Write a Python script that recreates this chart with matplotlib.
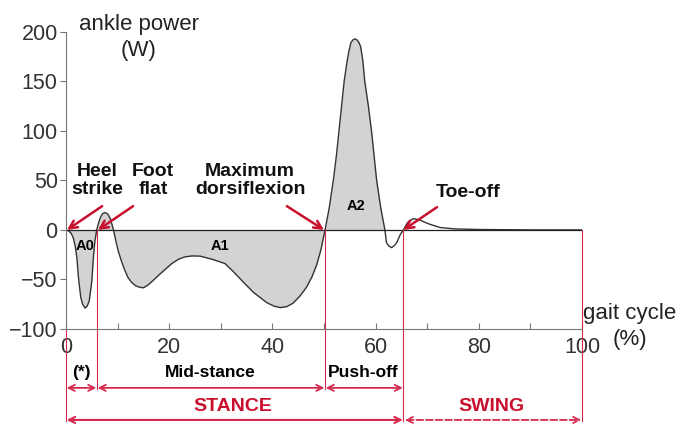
import numpy as np
import matplotlib.pyplot as plt

plt.rcParams['font.family'] = ['Liberation Sans', 'DejaVu Sans']

# ankle power over the gait cycle
gait = [0, 0.5, 1.0, 1.4, 1.8, 2.1, 2.4, 2.85, 3.2, 3.7, 4.1, 4.5, 5.0, 5.3, 5.6, 5.95,
        6.3, 6.7, 7.1, 7.6, 8.1, 8.6, 9.2,
        9.6, 10.1, 10.7, 11.4, 12.0, 12.7, 13.5, 14.3, 15.0, 15.8, 16.9, 18.0, 19.2,
        20.5, 21.8, 23.0, 24.4, 26.0, 28.5, 30.8, 32.4, 34.4, 36.3, 38.9, 40.3, 41.5,
        42.8, 44.0, 45.3, 46.6, 47.7, 48.6, 49.4, 50.2,
        51.0, 51.8, 52.4, 52.9, 53.4, 53.9, 54.4, 54.8, 55.2, 55.6, 56.0, 56.4, 56.8,
        57.1, 57.5, 57.9, 58.6, 59.2, 59.7, 60.2, 61.0, 61.8,
        62.1, 62.6, 63.1, 63.6, 64.1, 64.8, 65.4, 65.9, 66.3, 67.3, 68.6, 69.5, 70.5,
        72.5, 75.3, 80, 85, 90, 100]
power = [0, -1, -3.5, -8, -17, -28, -48, -68, -75, -79, -77, -71.7, -51.5, -28, -11, 0,
         7, 13, 16.5, 17.5, 16, 11, 0,
         -10, -21, -31, -41, -48, -53, -56.5, -58, -58.5, -56, -51, -45.5, -40,
         -34, -29.6, -27.3, -26.3, -26.5, -30, -34, -42, -53, -63, -73.5, -77, -78.5,
         -77.5, -74, -67, -58, -47, -35, -20, 0,
         22, 50, 75, 100, 125, 150, 168, 180, 189, 192, 193, 192, 189,
         185, 172, 150, 125, 100, 75, 50, 22, 0,
         -12.8, -16.5, -17.9, -16, -12.8, -4.4, 0, 5, 8, 11.4, 10, 7.8, 5.7,
         2.4, 1, 0.4, 0.2, 0, 0]

# phase boundaries (% gait cycle)
heel_strike = 0
foot_flat = 6.0
max_dorsi = 50.2
toe_off = 65.4
cycle_end = 100

red_txt = '#c8102e'
red_ln = '#d4294f'

fig = plt.figure(figsize=(6.9, 4.26), dpi=100)
ax = fig.add_axes([0.0957, 0.228, 0.7478, 0.697])

x = np.array(gait)
y = np.array(power)
ax.fill_between(x, y, 0, where=(x <= 61.8), color='#d3d3d3', lw=0, interpolate=True)
ax.plot(x, y, color='#333333', lw=1.0)
ax.axhline(0, color='#222222', lw=0.9)

ax.set_xlim(0, 100)
ax.set_ylim(-100, 200)
ax.spines['top'].set_visible(False)
ax.spines['right'].set_visible(False)
for s in ['left', 'bottom']:
    ax.spines[s].set_color('#777777')
ax.set_xticks(np.arange(0, 101, 10))
ax.set_xticklabels([str(v) if v % 20 == 0 else '' for v in range(0, 101, 10)])
ax.set_yticks([-100, -50, 0, 50, 100, 150, 200])
ax.tick_params(axis='x', direction='in', length=4, labelsize=15.5, colors='#777777',
               labelcolor='#333333', pad=6)
ax.tick_params(axis='y', direction='out', length=4, labelsize=15.5, colors='#777777',
               labelcolor='#333333', pad=2)

# axis titles
ax.text(14.1, 208, 'ankle power', fontsize=16, color='#222222', ha='center',
        va='center', clip_on=False)
ax.text(14.1, 181, '(W)', fontsize=16, color='#222222', ha='center',
        va='center', clip_on=False)
ax.text(109.3, -84, 'gait cycle', fontsize=16, color='#222222', ha='center',
        va='center', clip_on=False)
ax.text(109.3, -111, '(%)', fontsize=16, color='#222222', ha='center',
        va='center', clip_on=False)

# area labels
ax.text(3.7, -16, 'A0', fontsize=10.5, fontweight='bold', ha='center', va='center')
ax.text(29.8, -16, 'A1', fontsize=10.5, fontweight='bold', ha='center', va='center')
ax.text(56.2, 24, 'A2', fontsize=10.5, fontweight='bold', ha='center', va='center')

# events
events = [('Heel\nstrike', 6.0, 50, (7.0, 24), (heel_strike + 0.2, 0)),
          ('Foot\nflat', 16.9, 50, (13.0, 24), (foot_flat + 0.2, 0)),
          ('Maximum\ndorsiflexion', 35.7, 50, (42.8, 24), (max_dorsi - 0.2, 0)),
          ('Toe-off', 77.9, 37.4, (71.9, 23), (toe_off, 0))]
for label, tx, ty, start, end in events:
    ax.text(tx, ty, label, fontsize=14, fontweight='bold', ha='center', va='center',
            linespacing=1.05, color='#111111')
    ax.annotate('', xy=end, xytext=start,
                arrowprops=dict(arrowstyle='->', color=red_txt, lw=1.8,
                                mutation_scale=14, shrinkA=0, shrinkB=0))

# phase markers below the axis
ax.plot([heel_strike, heel_strike], [-100, -193], color=red_ln, lw=0.8, clip_on=False)
ax.plot([foot_flat, foot_flat], [0, -161], color=red_ln, lw=0.8, clip_on=False)
ax.plot([max_dorsi, max_dorsi], [0, -161], color=red_ln, lw=0.8, clip_on=False)
ax.plot([toe_off, toe_off], [0, -193], color=red_ln, lw=0.8, clip_on=False)
ax.plot([cycle_end, cycle_end], [0, -193], color=red_ln, lw=0.8, clip_on=False)

row1 = -159.6
row2 = -192
for a, b in [(heel_strike, foot_flat), (foot_flat, max_dorsi), (max_dorsi, toe_off)]:
    ax.annotate('', xy=(b, row1), xytext=(a, row1), annotation_clip=False,
                arrowprops=dict(arrowstyle='<->', color=red_ln, lw=1.3,
                                mutation_scale=11, shrinkA=0.5, shrinkB=0.5))
ax.annotate('', xy=(toe_off, row2), xytext=(heel_strike, row2), annotation_clip=False,
            arrowprops=dict(arrowstyle='<->', color=red_ln, lw=1.5,
                            mutation_scale=11, shrinkA=0.5, shrinkB=0.5))
ax.annotate('', xy=(cycle_end, row2), xytext=(toe_off, row2), annotation_clip=False,
            arrowprops=dict(arrowstyle='<->', color=red_ln, lw=1.3, linestyle='--',
                            mutation_scale=11, shrinkA=1.0, shrinkB=0.5))

ax.text(3.0, -144, '(*)', fontsize=12.5, fontweight='bold', ha='center', va='center',
        clip_on=False)
ax.text(27.9, -144, 'Mid-stance', fontsize=12.5, fontweight='bold', ha='center',
        va='center', clip_on=False)
ax.text(57.6, -144, 'Push-off', fontsize=12.5, fontweight='bold', ha='center',
        va='center', clip_on=False)
ax.text(32.4, -178, 'STANCE', fontsize=14, fontweight='bold', color=red_txt,
        ha='center', va='center', clip_on=False)
ax.text(82.5, -178, 'SWING', fontsize=14, fontweight='bold', color=red_txt,
        ha='center', va='center', clip_on=False)

fig.savefig('out.png', dpi=100)
